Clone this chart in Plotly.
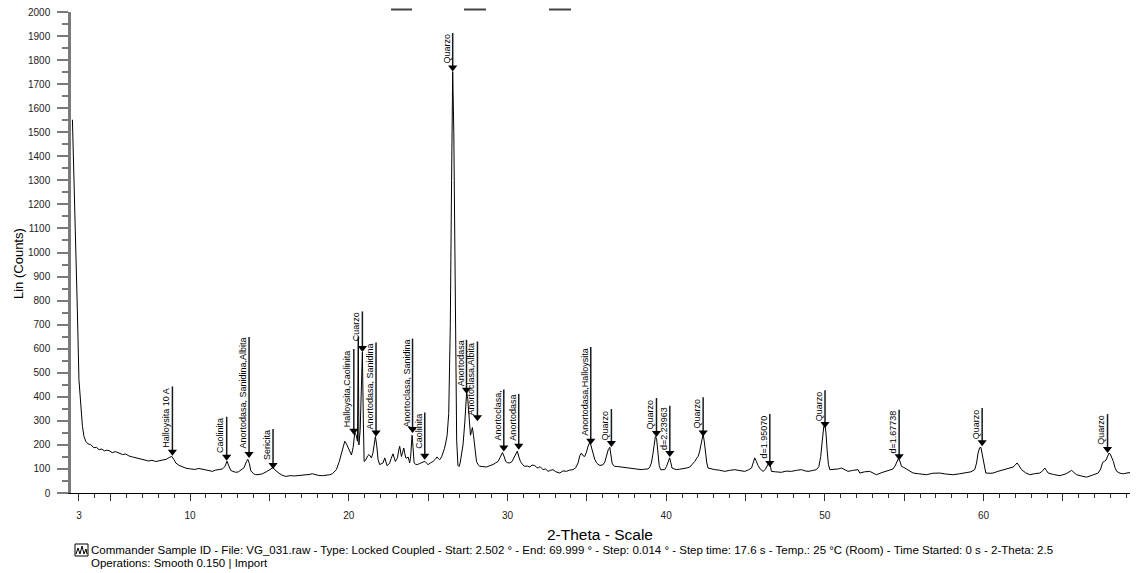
import plotly.graph_objects as go

# ---------------- data ----------------
two_theta = [2.59, 2.66, 2.74, 2.82, 2.90, 3.00, 3.11, 3.22, 3.32, 3.43, 3.55, 3.74, 3.95, 4.10, 4.27, 4.45,
             4.60, 4.75, 4.90, 5.10, 5.30, 5.53, 5.75, 5.95, 6.15, 6.37, 6.60, 6.80, 7.00, 7.21, 7.40, 7.60,
             7.84, 8.05, 8.26, 8.50, 8.70, 8.85, 9.00, 9.10, 9.30, 9.52, 9.75, 10.04, 10.30, 10.55, 10.78,
             11.00, 11.20, 11.41, 11.60, 11.85, 12.04, 12.20, 12.33, 12.45, 12.56, 12.70, 12.88, 13.05, 13.19,
             13.40, 13.55, 13.64, 13.74, 13.83, 14.00, 14.14, 14.35, 14.56, 14.80, 14.98, 15.10, 15.22, 15.35,
             15.61, 15.80, 16.03, 16.30, 16.60, 16.87, 17.20, 17.50, 17.71, 17.90, 18.10, 18.34, 18.60, 18.80,
             18.97, 19.22, 19.40, 19.54, 19.65, 19.75, 19.85, 19.96, 20.08, 20.17, 20.28, 20.38, 20.47, 20.55,
             20.60, 20.64, 20.72, 20.80, 20.86, 20.92, 20.97, 21.05, 21.12, 21.20, 21.28, 21.36, 21.43, 21.52,
             21.60, 21.68, 21.76, 21.85, 21.95, 22.05, 22.16, 22.27, 22.34, 22.41, 22.50, 22.58, 22.68, 22.79,
             22.87, 22.94, 23.00, 23.07, 23.14, 23.21, 23.27, 23.32, 23.40, 23.47, 23.53, 23.59, 23.66, 23.74,
             23.80, 23.84, 23.90, 23.99, 24.05, 24.12, 24.20, 24.31, 24.45, 24.58, 24.70, 24.79, 24.90, 25.00,
             25.15, 25.31, 25.45, 25.56, 25.65, 25.73, 25.85, 25.94, 26.03, 26.11, 26.20, 26.30, 26.40, 26.48,
             26.55, 26.62, 26.68, 26.74, 26.80, 26.88, 26.95, 27.02, 27.10, 27.20, 27.31, 27.38, 27.43, 27.50,
             27.58, 27.67, 27.73, 27.79, 27.86, 27.94, 28.05, 28.15, 28.26, 28.45, 28.68, 28.90, 29.09, 29.25,
             29.41, 29.55, 29.69, 29.80, 29.89, 30.00, 30.15, 30.30, 30.42, 30.53, 30.62, 30.72, 30.82, 30.95,
             31.09, 31.25, 31.41, 31.55, 31.72, 31.85, 31.93, 32.05, 32.24, 32.40, 32.56, 32.70, 32.87, 33.05,
             33.30, 33.50, 33.72, 33.90, 34.13, 34.30, 34.45, 34.56, 34.66, 34.76, 34.87, 34.98, 35.08, 35.20,
             35.30, 35.40, 35.50, 35.62, 35.77, 35.90, 36.03, 36.14, 36.24, 36.35, 36.45, 36.52, 36.59, 36.67,
             36.76, 36.95, 37.18, 37.40, 37.60, 37.80, 38.02, 38.25, 38.44, 38.65, 38.86, 38.97, 39.07, 39.16,
             39.24, 39.32, 39.40, 39.48, 39.56, 39.65, 39.80, 39.91, 40.02, 40.12, 40.22, 40.30, 40.37, 40.50,
             40.65, 40.85, 41.07, 41.30, 41.49, 41.65, 41.80, 41.93, 42.01, 42.10, 42.18, 42.26, 42.33, 42.40,
             42.48, 42.56, 42.64, 42.85, 43.06, 43.35, 43.69, 44.00, 44.32, 44.65, 44.95, 45.18, 45.38, 45.48,
             45.58, 45.68, 45.79, 45.95, 46.11, 46.25, 46.38, 46.48, 46.56, 46.63, 46.90, 47.26, 47.55, 47.89,
             48.20, 48.53, 48.75, 48.94, 49.20, 49.47, 49.62, 49.74, 49.84, 49.93, 50.00, 50.07, 50.14, 50.22,
             50.31, 50.45, 50.63, 50.85, 51.05, 51.25, 51.46, 51.75, 52.09, 52.20, 52.50, 52.83, 53.05, 53.25,
             53.55, 53.88, 54.10, 54.30, 54.42, 54.51, 54.62, 54.70, 54.83, 54.98, 55.14, 55.35, 55.56, 55.90,
             56.20, 56.40, 56.80, 57.24, 57.60, 58.08, 58.50, 58.92, 59.20, 59.44, 59.56, 59.65, 59.75, 59.83,
             59.90, 59.97, 60.05, 60.14, 60.40, 60.60, 60.90, 61.23, 61.55, 61.86, 61.98, 62.11, 62.25, 62.39,
             62.65, 62.91, 63.20, 63.54, 63.72, 63.86, 63.96, 64.07, 64.40, 64.81, 65.20, 65.42, 65.55, 65.68,
             65.86, 66.20, 66.49, 66.85, 67.22, 67.38, 67.50, 67.62, 67.71, 67.80, 67.90, 67.98, 68.08, 68.18,
             68.28, 68.39, 68.60, 68.81, 69.10, 69.44, 69.73]

counts = [1552, 1390, 1220, 980, 760, 471, 360, 277, 235, 215, 205, 201, 188, 190, 180, 183,
          175, 178, 176, 168, 172, 166, 160, 162, 154, 150, 146, 142, 140, 138, 133, 136,
          131, 134, 138, 140, 148, 152, 138, 125, 115, 108, 103, 100, 98, 102, 100,
          96, 93, 90, 95, 97, 100, 110, 132, 112, 94, 90, 86, 88, 94,
          105, 130, 140, 122, 92, 80, 76, 77, 80, 88, 94, 100, 106, 96,
          82, 74, 69, 72, 71, 72, 74, 77, 80, 76, 73, 72, 74, 76,
          80, 97, 130, 166, 200, 215, 205, 187, 168, 158, 190, 252, 240, 215,
          650, 200, 260, 470, 586, 300, 131, 135, 146, 155, 160, 150, 146, 165,
          200, 235, 200, 138, 118, 122, 125, 146, 125, 114, 118, 125, 145, 163,
          145, 131, 138, 146, 175, 194, 170, 152, 170, 187, 165, 146, 145, 150,
          135, 125, 150, 240, 190, 125, 120, 118, 122, 125, 128, 132, 124, 118,
          125, 131, 140, 150, 143, 138, 150, 166, 185, 208, 240, 330, 700, 1300,
          1752, 1500, 1000, 500, 220, 115, 110, 125, 152, 200, 291, 390, 420, 390,
          333, 240, 255, 272, 240, 180, 131, 118, 111, 110, 108, 114, 118, 125,
          131, 150, 168, 150, 131, 126, 125, 132, 146, 165, 174, 150, 131, 118,
          111, 112, 108, 116, 114, 106, 104, 110, 97, 100, 90, 94, 97, 88,
          83, 92, 90, 95, 97, 105, 125, 155, 166, 155, 152, 170, 195, 212,
          190, 165, 140, 125, 116, 115, 118, 130, 152, 180, 190, 160, 125, 115,
          111, 110, 108, 106, 104, 103, 101, 99, 97, 99, 100, 108, 125, 160,
          194, 235, 225, 170, 115, 97, 96, 97, 110, 131, 146, 125, 104, 100,
          97, 99, 100, 104, 108, 118, 131, 145, 152, 170, 201, 235, 245, 215,
          166, 125, 104, 100, 97, 95, 90, 94, 97, 93, 90, 96, 104, 125,
          146, 132, 114, 98, 90, 98, 115, 128, 115, 90, 88, 86, 91, 90,
          94, 97, 92, 90, 93, 97, 110, 152, 220, 275, 285, 250, 180, 120,
          97, 98, 97, 100, 104, 96, 90, 94, 97, 83, 88, 90, 82, 76,
          84, 90, 96, 100, 112, 125, 141, 138, 111, 106, 100, 90, 83, 80,
          79, 76, 82, 83, 79, 76, 80, 83, 88, 97, 125, 166, 188, 190,
          165, 131, 100, 83, 82, 83, 90, 97, 104, 108, 115, 125, 112, 97,
          84, 76, 80, 83, 92, 104, 94, 83, 77, 72, 80, 88, 94, 86,
          76, 70, 66, 74, 83, 100, 127, 132, 136, 150, 166, 162, 145, 131,
          105, 90, 82, 80, 84, 86, 82]

peak_x = [8.89, 12.31, 13.72, 15.23, 20.32, 20.86, 21.72, 24.02, 24.79, 26.55, 27.42, 28.11,
          29.77, 30.71, 35.25, 36.55, 39.39, 40.23, 42.33, 46.53, 50.01, 54.68, 59.91, 67.81]
peak_tip = [155, 134, 146, 100, 242, 586, 235, 249, 138, 1753, 413, 298,
            173, 180, 201, 191, 233, 150, 235, 108, 270, 136, 194, 166]
label_top = [443, 317, 649, 266, 599, 755, 626, 642, 335, 1913, 637, 630,
             430, 412, 607, 349, 395, 363, 398, 328, 427, 346, 353, 328]
peak_labels = ["Halloysita 10 A", "Caolinita", "Anortodasa, Sanidina,Albita", "Sericita",
               "Halloysita,Caolinita", "Cuarzo", "Anortodasa, Sanidina", "Anortoclasa, Sanidina",
               "Caolinita", "Quarzo", "Anortodasa", "Anortoclasa,Albita", "Anortoclasa,",
               "Anortodasa", "Anortodasa,Halloysita", "Quarzo", "Quarzo", "d=2.23963", "Quarzo",
               "d=1.95070", "Quarzo", "d=1.67738", "Quarzo", "Quarzo"]

y_tickvals = list(range(0, 2001, 100))
x_tickvals = [3, 5, 10, 15, 20, 25, 30, 35, 40, 45, 50, 55, 60, 65]
x_ticktext = ["3", "", "10", "", "20", "", "30", "", "40", "", "50", "", "60", ""]

x_title = "2-Theta - Scale"
y_title = "Lin (Counts)"
footer_lines = [
    "Commander Sample ID - File: VG_031.raw - Type: Locked Coupled - Start: 2.502 ° - End: 69.999 ° - "
    "Step: 0.014 ° - Step time: 17.6 s - Temp.: 25 °C (Room) - Time Started: 0 s - 2-Theta: 2.5",
    "Operations: Smooth 0.150 | Import",
]

# ---------------- layout geometry ----------------
# the page body has an 8 px margin, so the figure is placed 8 px in from the window corner
OFF = 8
W, H = 1138 - OFF, 573 - OFF
ML, MR, MT, MB = 71 - OFF, 0, 12 - OFF, 80
PW, PH = W - ML - MR, H - MT - MB
X_RANGE = [2.5, 69.73]
Y_RANGE = [0, 2000]
FONT = "Arial, Liberation Sans, sans-serif"


def px_x(px):
    """window pixel -> paper x"""
    return (px - OFF - ML) / PW


def px_y(py):
    """window pixel -> paper y"""
    return (H - MB - (py - OFF)) / PH


count_per_px = (Y_RANGE[1] - Y_RANGE[0]) / PH

fig = go.Figure()

# pattern
fig.add_trace(go.Scatter(x=two_theta, y=counts, mode="lines",
                         line=dict(color="black", width=1), hoverinfo="skip"))

# stick lines of the peak labels
lx, ly = [], []
for xv, tip, top in zip(peak_x, peak_tip, label_top):
    lx += [xv, xv, None]
    ly += [top, tip + 3 * count_per_px, None]
fig.add_trace(go.Scatter(x=lx, y=ly, mode="lines", line=dict(color="#1a1a1a", width=1.5),
                         hoverinfo="skip"))

# arrowheads
fig.add_trace(go.Scatter(x=peak_x, y=[t + 4 * count_per_px for t in peak_tip], mode="markers",
                         marker=dict(symbol="triangle-down", size=8, color="black"),
                         hoverinfo="skip", cliponaxis=False))

# axis arrowheads
fig.add_trace(go.Scatter(x=[X_RANGE[0]], y=[Y_RANGE[1] + 2 * count_per_px], mode="markers",
                         marker=dict(symbol="triangle-up", size=6, color="black"),
                         hoverinfo="skip", cliponaxis=False))
fig.add_trace(go.Scatter(x=[X_RANGE[1]], y=[Y_RANGE[0]], mode="markers",
                         marker=dict(symbol="triangle-right", size=6, color="black"),
                         hoverinfo="skip", cliponaxis=False))

annotations = []
for xv, top, lab in zip(peak_x, label_top, peak_labels):
    annotations.append(dict(x=xv, y=top, xref="x", yref="y", text=lab, showarrow=False,
                            textangle=-90, xanchor="right", yanchor="top", xshift=0,
                            font=dict(family=FONT, size=9, color="black"), borderpad=0))

annotations.append(dict(x=px_x(600), y=px_y(534), xref="paper", yref="paper", text=x_title,
                        showarrow=False, xanchor="center", yanchor="middle",
                        font=dict(family=FONT, size=15.5, color="black")))
annotations.append(dict(x=px_x(18), y=px_y(264), xref="paper", yref="paper", text=y_title,
                        showarrow=False, xanchor="center", yanchor="middle", textangle=-90,
                        font=dict(family=FONT, size=13, color="black")))
for i, line in enumerate(footer_lines):
    annotations.append(dict(x=px_x(89), y=px_y(550 + 13 * i), xref="paper", yref="paper",
                            text=line, showarrow=False, xanchor="left", yanchor="middle",
                            font=dict(family=FONT, size=11.5, color="black")))

shapes = []
# icon in front of the footer
shapes.append(dict(type="rect", xref="paper", yref="paper",
                   x0=px_x(75), x1=px_x(88), y0=px_y(556), y1=px_y(544),
                   line=dict(color="black", width=1), fillcolor="white"))
wave = [(76, 554), (78, 548), (80, 554), (82, 546), (84, 554), (86, 549), (87, 554)]
path = "M " + " L ".join(f"{px_x(a):.5f},{px_y(b):.5f}" for a, b in wave)
shapes.append(dict(type="path", xref="paper", yref="paper", path=path,
                   line=dict(color="black", width=1)))
# fragments of underlined text cut off at the top edge
for a, b in [(391, 412), (464, 486), (549, 571)]:
    shapes.append(dict(type="line", xref="paper", yref="paper", x0=px_x(a), x1=px_x(b),
                       y0=px_y(9.5), y1=px_y(9.5), line=dict(color="#444", width=2)))

fig.update_layout(
    width=W, height=H,
    margin=dict(l=ML, r=MR, t=MT, b=MB, pad=0, autoexpand=False),
    paper_bgcolor="white", plot_bgcolor="white",
    showlegend=False, hovermode=False,
    annotations=annotations, shapes=shapes,
    font=dict(family=FONT, color="#222"),
)
fig.update_xaxes(range=X_RANGE, showgrid=False, zeroline=False, automargin=False,
                 showline=True, linecolor="black", linewidth=1,
                 tickmode="array", tickvals=x_tickvals, ticktext=x_ticktext,
                 ticks="outside", ticklen=7, tickwidth=1, tickcolor="#333",
                 ticklabelstandoff=6, ticklabeloverflow="allow",
                 tickfont=dict(family=FONT, size=10, color="#222"),
                 minor=dict(tickmode="linear", tick0=0, dtick=1, ticks="outside",
                            ticklen=4, tickwidth=1, tickcolor="#333"))
fig.update_yaxes(range=Y_RANGE, showgrid=False, zeroline=False, automargin=False,
                 showline=True, linecolor="#7a7a7a", linewidth=2.5,
                 tickmode="array", tickvals=y_tickvals,
                 ticks="outside", ticklen=11, tickwidth=1.5, tickcolor="#7a7a7a",
                 ticklabelstandoff=5, ticklabeloverflow="allow",
                 tickfont=dict(family=FONT, size=10, color="#222"),
                 minor=dict(tickmode="linear", tick0=0, dtick=50, ticks="outside",
                            ticklen=6, tickwidth=1.5, tickcolor="#7a7a7a"))

fig.write_html("out.html")
